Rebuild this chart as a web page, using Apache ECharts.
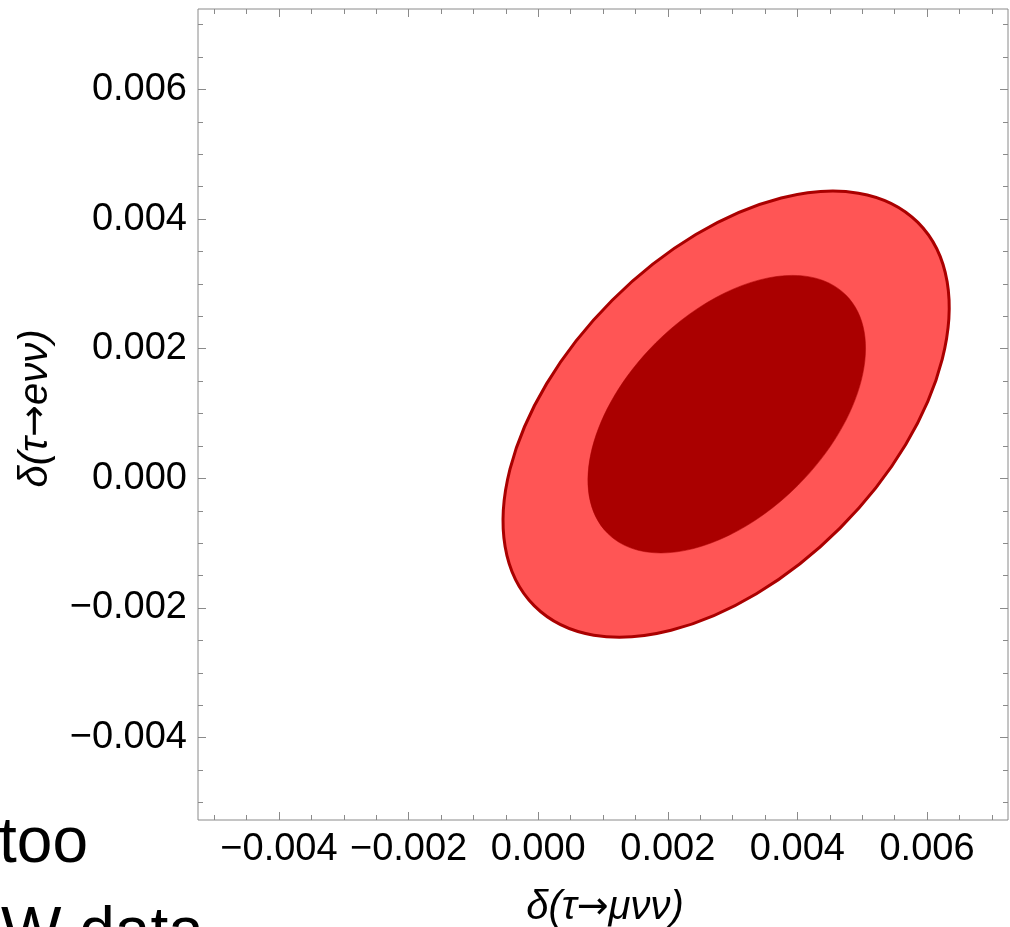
<!DOCTYPE html>
<html>
<head>
<meta charset="utf-8">
<script src="https://cdn.jsdelivr.net/npm/echarts@6/dist/echarts.min.js"></script>
<style>
html,body{margin:0;padding:0;background:#fff;}
#chart{width:1010px;height:927px;}
</style>
</head>
<body>
<div id="chart"></div>
<script>
// Axis ranges and ticks
const xRange = [-0.00525, 0.00725];
const yRange = [-0.00527, 0.00724];
const xMajorTicks = [-0.004, -0.002, 0.000, 0.002, 0.004, 0.006];
const yMajorTicks = [-0.004, -0.002, 0.000, 0.002, 0.004, 0.006];
const minorTicks = [-0.005, -0.0045, -0.0035, -0.003, -0.0025, -0.0015, -0.001, -0.0005,
  0.0005, 0.001, 0.0015, 0.0025, 0.003, 0.0035, 0.0045, 0.005, 0.0055, 0.0065, 0.007];
const xTitleParts = ['δ(τ', '→', 'μνν)'];
const yTitleParts = ['δ(τ', '→', 'eνν)'];

// Confidence-region contours (outer = light red, inner = dark red)
const contourNames = ['outer', 'inner'];
const centerX = [0.00290, 0.00291];
const centerY = [0.00099, 0.00099];
const semiMajor = [0.004185, 0.00260];
const semiMinor = [0.002485, 0.001552];
const tiltDeg = [45, 45];

const frameColor = '#8a8a8a';
const labelFont = '"Liberation Sans", Arial, sans-serif';
const fillColors = ['#ff5555', '#aa0000'];
const strokeColors = ['#aa0000', '#aa0000'];
const strokeWidths = [3, 0.5];

function fmt(v) {
  const a = Math.abs(v).toFixed(3);
  return (v < -1e-12 ? '\u2212' : '') + a;
}

function tickAxis(base, pos, values, len, withLabels, extra) {
  return Object.assign({
    type: 'value',
    min: base[0], max: base[1],
    position: pos,
    axisLine: { show: false, onZero: false },
    axisTick: { show: true, inside: true, length: len, customValues: values,
      lineStyle: { color: frameColor, width: 1 } },
    axisLabel: withLabels ? {
      show: true, customValues: values, formatter: fmt,
      fontFamily: labelFont, fontSize: 38, color: '#000', margin: 11
    } : { show: false },
    splitLine: { show: false }
  }, extra || {});
}

function titleText(parts) {
  return '{t|' + parts[0] + '}{r|' + parts[1] + '}{t|' + parts[2] + '}';
}
function titleStyle(pad) {
  return {
    color: '#000',
    padding: pad,
    rich: {
      t: { fontFamily: labelFont, fontStyle: 'italic', fontSize: 40, color: '#000' },
      r: { fontFamily: '"DejaVu Sans", sans-serif', fontSize: 38, color: '#000' }
    }
  };
}

const contourData = contourNames.map((n, i) => [centerX[i], centerY[i], semiMajor[i], semiMinor[i], tiltDeg[i]]);

function contourSeries(i) {
  return {
    type: 'custom',
    name: contourNames[i],
    coordinateSystem: 'cartesian2d',
    xAxisIndex: 0, yAxisIndex: 0,
    data: [contourData[i]],
    dimensions: ['x', 'y', 'a', 'b', 'tilt'],
    encode: { x: 0, y: 1 },
    z: 2 + i,
    silent: true,
    renderItem: function (params, api) {
      const c = api.coord([api.value(0), api.value(1)]);
      const s = api.size([api.value(2), api.value(3)]);
      return {
        type: 'ellipse',
        x: c[0], y: c[1],
        rotation: api.value(4) * Math.PI / 180,
        shape: { cx: 0, cy: 0, rx: s[0], ry: s[1] },
        style: { fill: fillColors[i], stroke: strokeColors[i], lineWidth: strokeWidths[i] }
      };
    }
  };
}

const chart = echarts.init(document.getElementById('chart'), null, { renderer: 'canvas' });
chart.setOption({
  animation: false,
  backgroundColor: '#ffffff',
  grid: { left: 198, top: 9, width: 810, height: 811, show: true,
    outerBoundsMode: 'none', containLabel: false,
    borderColor: frameColor, borderWidth: 1, backgroundColor: 'transparent' },
  xAxis: [
    tickAxis(xRange, 'bottom', xMajorTicks, 8, true, {
      name: titleText(xTitleParts), nameLocation: 'middle', nameGap: 68,
      nameTextStyle: titleStyle([0, 0, 0, 4])
    }),
    tickAxis(xRange, 'bottom', minorTicks, 5, false),
    tickAxis(xRange, 'top', xMajorTicks, 8, false),
    tickAxis(xRange, 'top', minorTicks, 5, false)
  ],
  yAxis: [
    tickAxis(yRange, 'left', yMajorTicks, 8, true, {
      name: titleText(yTitleParts), nameLocation: 'middle', nameGap: 142, nameRotate: 90,
      nameTextStyle: titleStyle([0, 0, 0, 12])
    }),
    tickAxis(yRange, 'left', minorTicks, 5, false),
    tickAxis(yRange, 'right', yMajorTicks, 8, false),
    tickAxis(yRange, 'right', minorTicks, 5, false)
  ],
  graphic: [
    { type: 'text', left: -1, top: 812, z: 100, silent: true,
      style: { text: 'too', fontFamily: labelFont, fontSize: 64, fill: '#000' } },
    { type: 'text', left: 1, top: 902, z: 100, silent: true,
      style: { text: 'W data', fontFamily: labelFont, fontSize: 64, fill: '#000' } }
  ],
  series: [contourSeries(0), contourSeries(1)]
});
</script>
</body>
</html>
